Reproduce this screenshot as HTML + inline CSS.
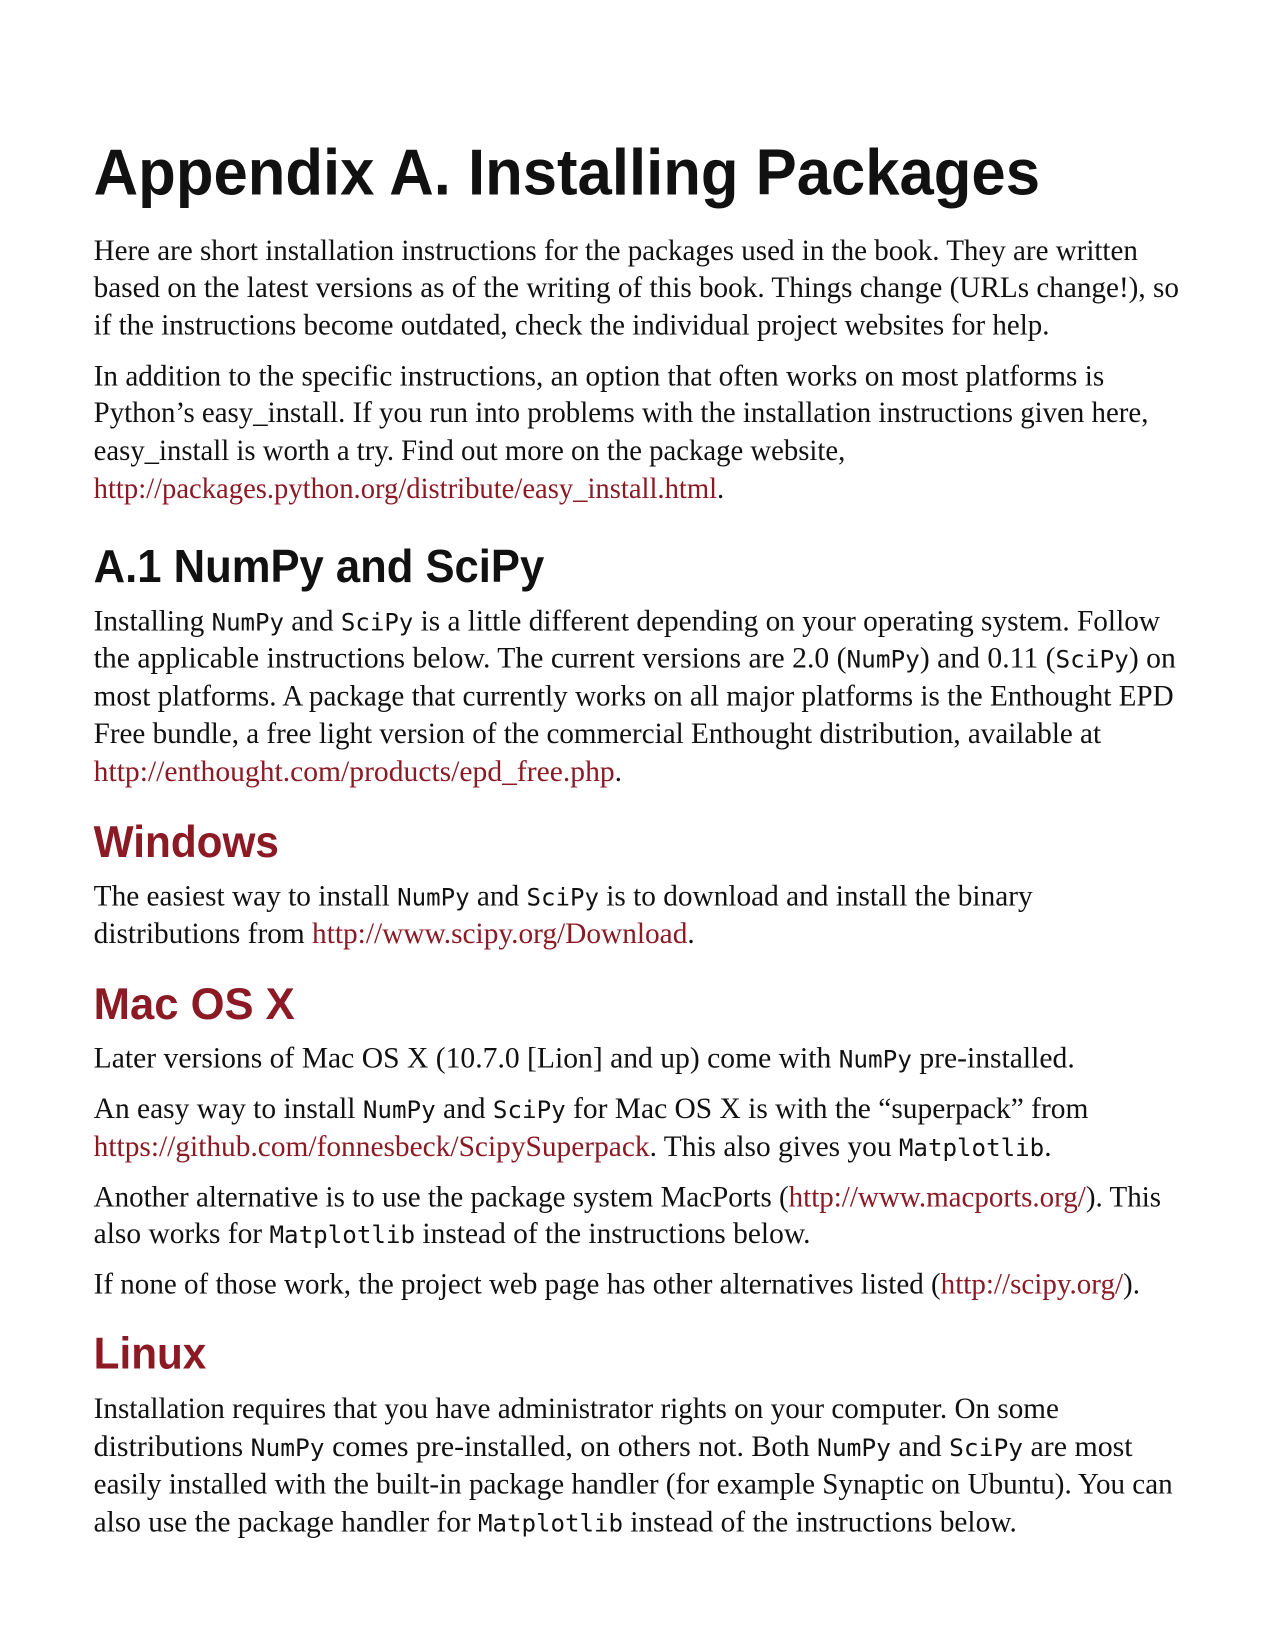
<!DOCTYPE html>
<html><head><meta charset="utf-8"><style>
html,body{margin:0;padding:0;background:#fff;}
svg{display:block;}
.b{font-family:"Liberation Serif",serif;font-size:28px;fill:#111;}
.m{font-family:"DejaVu Sans Mono",monospace;font-size:23px;}
.l{fill:#8c1a24;}
.h{font-family:"Liberation Sans",sans-serif;font-weight:bold;}
</style></head><body>
<svg width="1275" height="1650" viewBox="0 0 1211.25 1567.5" preserveAspectRatio="none">
<text class="h" x="89" y="185" font-size="62" fill="#111" textLength="899" lengthAdjust="spacingAndGlyphs">Appendix A. Installing Packages</text>

<g>
<text class="b" x="89" y="247" textLength="992" lengthAdjust="spacingAndGlyphs">Here are short installation instructions for the packages used in the book. They are written</text>
<text class="b" x="89" y="282" textLength="1031" lengthAdjust="spacingAndGlyphs">based on the latest versions as of the writing of this book. Things change (URLs change!), so</text>
<text class="b" x="89" y="318" textLength="908" lengthAdjust="spacingAndGlyphs">if the instructions become outdated, check the individual project websites for help.</text>
</g>
<g>
<text class="b" x="89" y="366" textLength="960" lengthAdjust="spacingAndGlyphs">In addition to the specific instructions, an option that often works on most platforms is</text>
<text class="b" x="89" y="401" textLength="1002" lengthAdjust="spacingAndGlyphs">Python’s easy_install. If you run into problems with the installation instructions given here,</text>
<text class="b" x="89" y="437" textLength="714" lengthAdjust="spacingAndGlyphs">easy_install is worth a try. Find out more on the package website,</text>
<text class="b" x="89" y="473" textLength="599" lengthAdjust="spacingAndGlyphs"><tspan class="l">http://packages.python.org/distribute/easy_install.html</tspan>.</text>
</g>

<text class="h" x="89" y="553" font-size="44" fill="#111" textLength="428" lengthAdjust="spacingAndGlyphs">A.1 NumPy and SciPy</text>
<g>
<text class="b" x="89" y="599" textLength="1013" lengthAdjust="spacingAndGlyphs">Installing <tspan class="m">NumPy</tspan> and <tspan class="m">SciPy</tspan> is a little different depending on your operating system. Follow</text>
<text class="b" x="89" y="634" textLength="1028" lengthAdjust="spacingAndGlyphs">the applicable instructions below. The current versions are 2.0 (<tspan class="m">NumPy</tspan>) and 0.11 (<tspan class="m">SciPy</tspan>) on</text>
<text class="b" x="89" y="670" textLength="1026" lengthAdjust="spacingAndGlyphs">most platforms. A package that currently works on all major platforms is the Enthought EPD</text>
<text class="b" x="89" y="706" textLength="957" lengthAdjust="spacingAndGlyphs">Free bundle, a free light version of the commercial Enthought distribution, available at</text>
<text class="b" x="89" y="742" textLength="502" lengthAdjust="spacingAndGlyphs"><tspan class="l">http://enthought.com/products/epd_free.php</tspan>.</text>
</g>

<text class="h" x="89" y="814" font-size="42" fill="#8c1a24" textLength="176" lengthAdjust="spacingAndGlyphs">Windows</text>
<g>
<text class="b" x="89" y="860" textLength="892" lengthAdjust="spacingAndGlyphs">The easiest way to install <tspan class="m">NumPy</tspan> and <tspan class="m">SciPy</tspan> is to download and install the binary</text>
<text class="b" x="89" y="896" textLength="571" lengthAdjust="spacingAndGlyphs">distributions from <tspan class="l">http://www.scipy.org/Download</tspan>.</text>
</g>

<text class="h" x="89" y="968" font-size="42" fill="#8c1a24" textLength="191" lengthAdjust="spacingAndGlyphs">Mac OS X</text>
<g>
<text class="b" x="89" y="1014" textLength="932" lengthAdjust="spacingAndGlyphs">Later versions of Mac OS X (10.7.0 [Lion] and up) come with <tspan class="m">NumPy</tspan> pre-installed.</text>
<text class="b" x="89" y="1062" textLength="945" lengthAdjust="spacingAndGlyphs">An easy way to install <tspan class="m">NumPy</tspan> and <tspan class="m">SciPy</tspan> for Mac OS X is with the “superpack” from</text>
<text class="b" x="89" y="1098" textLength="910" lengthAdjust="spacingAndGlyphs"><tspan class="l">https://github.com/fonnesbeck/ScipySuperpack</tspan>. This also gives you <tspan class="m">Matplotlib</tspan>.</text>
<text class="b" x="89" y="1146" textLength="1014" lengthAdjust="spacingAndGlyphs">Another alternative is to use the package system MacPorts (<tspan class="l">http://www.macports.org/</tspan>). This</text>
<text class="b" x="89" y="1181" textLength="681" lengthAdjust="spacingAndGlyphs">also works for <tspan class="m">Matplotlib</tspan> instead of the instructions below.</text>
<text class="b" x="89" y="1229" textLength="994" lengthAdjust="spacingAndGlyphs">If none of those work, the project web page has other alternatives listed (<tspan class="l">http://scipy.org/</tspan>).</text>
</g>

<text class="h" x="89" y="1300" font-size="42" fill="#8c1a24" textLength="107" lengthAdjust="spacingAndGlyphs">Linux</text>
<g>
<text class="b" x="89" y="1347" textLength="917" lengthAdjust="spacingAndGlyphs">Installation requires that you have administrator rights on your computer. On some</text>
<text class="b" x="89" y="1383" textLength="987" lengthAdjust="spacingAndGlyphs">distributions <tspan class="m">NumPy</tspan> comes pre-installed, on others not. Both <tspan class="m">NumPy</tspan> and <tspan class="m">SciPy</tspan> are most</text>
<text class="b" x="89" y="1419" textLength="1025" lengthAdjust="spacingAndGlyphs">easily installed with the built-in package handler (for example Synaptic on Ubuntu). You can</text>
<text class="b" x="89" y="1455" textLength="877" lengthAdjust="spacingAndGlyphs">also use the package handler for <tspan class="m">Matplotlib</tspan> instead of the instructions below.</text>
</g>
</svg>
</body></html>
